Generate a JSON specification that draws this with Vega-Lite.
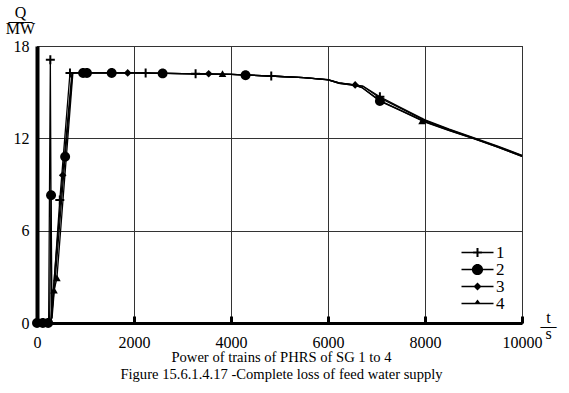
{
  "$schema": "https://vega.github.io/schema/vega-lite/v6.json",
  "width": 485,
  "height": 277,
  "autosize": "none",
  "padding": {"left": 37, "top": 46, "right": 47, "bottom": 70},
  "background": "white",
  "config": {
    "font": "Liberation Serif",
    "style": {
      "guide-label": {"font": "Liberation Serif"},
      "guide-title": {"font": "Liberation Serif"}
    },
    "view": {"stroke": "black", "strokeWidth": 1},
    "axis": {
      "labelFont": "Liberation Serif",
      "titleFont": "Liberation Serif",
      "labelColor": "black",
      "titleColor": "black",
      "labelFontSize": 16,
      "titleFontSize": 16,
      "titleFontWeight": "normal",
      "domainColor": "black",
      "gridColor": "#333333",
      "gridWidth": 1,
      "gridOpacity": 1,
      "tickColor": "black"
    }
  },
  "title": {
    "text": "Power of trains of PHRS of SG 1 to 4",
    "subtitle": "Figure 15.6.1.4.17 -Complete loss of feed water supply",
    "orient": "bottom",
    "anchor": "middle",
    "frame": "group",
    "font": "Liberation Serif",
    "fontSize": 14.6,
    "fontWeight": "normal",
    "color": "black",
    "subtitleFont": "Liberation Serif",
    "subtitleFontSize": 14.6,
    "subtitleColor": "black",
    "subtitlePadding": 2,
    "offset": 0,
    "dx": 2
  },
  "datasets": {
    "curves": [
      {"s": "1", "t": 0, "q": 0}, {"s": "1", "t": 240, "q": 0}, {"s": "1", "t": 275, "q": 17.1}, {"s": "1", "t": 300, "q": 0.3},
      {"s": "1", "t": 470, "q": 8.0}, {"s": "1", "t": 680, "q": 16.25}, {"s": "1", "t": 1000, "q": 16.25}, {"s": "1", "t": 2000, "q": 16.25},
      {"s": "1", "t": 3000, "q": 16.2}, {"s": "1", "t": 4000, "q": 16.15}, {"s": "1", "t": 4800, "q": 16.05}, {"s": "1", "t": 5500, "q": 15.95},
      {"s": "1", "t": 6000, "q": 15.82}, {"s": "1", "t": 6230, "q": 15.6}, {"s": "1", "t": 6550, "q": 15.48}, {"s": "1", "t": 6720, "q": 15.4},
      {"s": "1", "t": 7070, "q": 14.7}, {"s": "1", "t": 7500, "q": 14.0}, {"s": "1", "t": 8000, "q": 13.2}, {"s": "1", "t": 8500, "q": 12.6},
      {"s": "1", "t": 9000, "q": 12.05}, {"s": "1", "t": 9500, "q": 11.5}, {"s": "1", "t": 10000, "q": 10.9},

      {"s": "2", "t": 0, "q": 0}, {"s": "2", "t": 260, "q": 0}, {"s": "2", "t": 290, "q": 8.3}, {"s": "2", "t": 310, "q": 0.3},
      {"s": "2", "t": 580, "q": 10.8}, {"s": "2", "t": 730, "q": 16.25}, {"s": "2", "t": 1000, "q": 16.25}, {"s": "2", "t": 2000, "q": 16.25},
      {"s": "2", "t": 3000, "q": 16.2}, {"s": "2", "t": 4000, "q": 16.15}, {"s": "2", "t": 4800, "q": 16.05}, {"s": "2", "t": 5500, "q": 15.95},
      {"s": "2", "t": 6000, "q": 15.8}, {"s": "2", "t": 6230, "q": 15.58}, {"s": "2", "t": 6550, "q": 15.45}, {"s": "2", "t": 6700, "q": 15.3},
      {"s": "2", "t": 7070, "q": 14.42}, {"s": "2", "t": 7500, "q": 13.8}, {"s": "2", "t": 8000, "q": 13.05}, {"s": "2", "t": 8500, "q": 12.5},
      {"s": "2", "t": 9000, "q": 11.98}, {"s": "2", "t": 9500, "q": 11.42}, {"s": "2", "t": 10000, "q": 10.82},

      {"s": "3", "t": 0, "q": 0}, {"s": "3", "t": 280, "q": 0}, {"s": "3", "t": 530, "q": 9.6}, {"s": "3", "t": 720, "q": 16.25},
      {"s": "3", "t": 1000, "q": 16.25}, {"s": "3", "t": 2000, "q": 16.25}, {"s": "3", "t": 3000, "q": 16.2}, {"s": "3", "t": 4000, "q": 16.15},
      {"s": "3", "t": 4800, "q": 16.05}, {"s": "3", "t": 5500, "q": 15.95}, {"s": "3", "t": 6000, "q": 15.82}, {"s": "3", "t": 6230, "q": 15.6},
      {"s": "3", "t": 6550, "q": 15.47}, {"s": "3", "t": 6720, "q": 15.38}, {"s": "3", "t": 7070, "q": 14.62}, {"s": "3", "t": 7500, "q": 13.95},
      {"s": "3", "t": 8000, "q": 13.15}, {"s": "3", "t": 8500, "q": 12.57}, {"s": "3", "t": 9000, "q": 12.02}, {"s": "3", "t": 9500, "q": 11.47},
      {"s": "3", "t": 10000, "q": 10.88},

      {"s": "4", "t": 0, "q": 0}, {"s": "4", "t": 290, "q": 0}, {"s": "4", "t": 350, "q": 2.1}, {"s": "4", "t": 410, "q": 2.9},
      {"s": "4", "t": 740, "q": 16.25}, {"s": "4", "t": 1000, "q": 16.25}, {"s": "4", "t": 2000, "q": 16.25}, {"s": "4", "t": 3000, "q": 16.2},
      {"s": "4", "t": 4000, "q": 16.15}, {"s": "4", "t": 4800, "q": 16.05}, {"s": "4", "t": 5500, "q": 15.95}, {"s": "4", "t": 6000, "q": 15.8},
      {"s": "4", "t": 6230, "q": 15.58}, {"s": "4", "t": 6550, "q": 15.45}, {"s": "4", "t": 6700, "q": 15.3}, {"s": "4", "t": 7070, "q": 14.45},
      {"s": "4", "t": 7500, "q": 13.82}, {"s": "4", "t": 8000, "q": 13.08}, {"s": "4", "t": 8500, "q": 12.52}, {"s": "4", "t": 9000, "q": 11.99},
      {"s": "4", "t": 9500, "q": 11.43}, {"s": "4", "t": 10000, "q": 10.83}
    ],
    "markers": [
      {"s": "1", "t": 275, "q": 17.1}, {"s": "1", "t": 470, "q": 8.0}, {"s": "1", "t": 680, "q": 16.25}, {"s": "1", "t": 2240, "q": 16.25},
      {"s": "1", "t": 3270, "q": 16.2}, {"s": "1", "t": 4830, "q": 16.05}, {"s": "1", "t": 7070, "q": 14.7},
      {"s": "2", "t": 0, "q": 0}, {"s": "2", "t": 120, "q": 0}, {"s": "2", "t": 230, "q": 0}, {"s": "2", "t": 290, "q": 8.3},
      {"s": "2", "t": 580, "q": 10.8}, {"s": "2", "t": 950, "q": 16.25}, {"s": "2", "t": 1030, "q": 16.25}, {"s": "2", "t": 1540, "q": 16.25},
      {"s": "2", "t": 2590, "q": 16.22}, {"s": "2", "t": 4300, "q": 16.1}, {"s": "2", "t": 7070, "q": 14.42},
      {"s": "3", "t": 530, "q": 9.6}, {"s": "3", "t": 1870, "q": 16.25}, {"s": "3", "t": 3540, "q": 16.2}, {"s": "3", "t": 6560, "q": 15.47},
      {"s": "4", "t": 350, "q": 2.1}, {"s": "4", "t": 410, "q": 2.9}, {"s": "4", "t": 3825, "q": 16.17}, {"s": "4", "t": 7940, "q": 13.1}
    ]
  },
  "encoding": {
    "x": {
      "field": "t", "type": "quantitative",
      "scale": {"domain": [0, 10000], "nice": false, "zero": false},
      "axis": {
        "values": [0, 2000, 4000, 6000, 8000, 10000],
        "format": "d",
        "labelFont": "Liberation Serif",
        "labelFontSize": 16,
        "titleFont": "Liberation Serif",
        "grid": true,
        "tickSize": -7,
        "tickWidth": 3,
        "domainWidth": 3,
        "labelPadding": 18,
        "labelFlush": false,
        "labelOverlap": false,
        "title": ["t", "—", "s"],
        "titleLineHeight": 8,
        "titleAngle": 0,
        "titleAlign": "center",
        "titleBaseline": "alphabetic",
        "titleX": 511,
        "titleY": -1
      }
    },
    "y": {
      "field": "q", "type": "quantitative",
      "scale": {"domain": [0, 18], "nice": false},
      "axis": {
        "values": [0, 6, 12, 18],
        "format": "d",
        "labelFont": "Liberation Serif",
        "labelFontSize": 16,
        "titleFont": "Liberation Serif",
        "grid": true,
        "ticks": false,
        "domainWidth": 4,
        "labelPadding": 8,
        "title": ["Q", "—–", "MW"],
        "titleLineHeight": 8,
        "titleAngle": 0,
        "titleAlign": "center",
        "titleBaseline": "alphabetic",
        "titleX": -17,
        "titleY": -29
      }
    }
  },
  "layer": [
    {
      "data": {"name": "curves"},
      "mark": {"type": "line", "color": "black", "strokeWidth": 1.3},
      "encoding": {"detail": {"field": "s"}}
    },
    {
      "data": {"name": "markers"},
      "mark": {"type": "point", "filled": true, "color": "black", "opacity": 1, "size": 81, "strokeWidth": 0},
      "encoding": {
        "shape": {
          "field": "s", "type": "nominal",
          "scale": {
            "domain": ["1", "2", "3", "4"],
            "range": [
              "M-1,-0.22H-0.22V-1H0.22V-0.22H1V0.22H0.22V1H-0.22V0.22H-1Z",
              "M-1.1,0A1.1,1.1,0,1,1,1.1,0A1.1,1.1,0,1,1,-1.1,0Z",
              "M0,-0.85L0.85,0L0,0.85L-0.85,0Z",
              "M0,-0.85L0.85,0.65L-0.85,0.65Z"
            ]
          },
          "legend": null
        }
      }
    },
    {
      "data": {"name": "markers"},
      "mark": {"type": "point", "filled": true, "color": "black", "opacity": 0, "strokeWidth": 0},
      "encoding": {
        "shape": {
          "field": "s", "type": "nominal",
          "scale": {
            "domain": ["1", "2", "3", "4"],
            "range": [
              "M-4,-0.2H4V0.2H-4Z M-1.1,-0.25H-0.25V-1.1H0.25V-0.25H1.1V0.25H0.25V1.1H-0.25V0.25H-1.1Z",
              "M-4,-0.2H4V0.2H-4Z M-1.4,0A1.4,1.4,0,1,1,1.4,0A1.4,1.4,0,1,1,-1.4,0Z",
              "M-4,-0.2H4V0.2H-4Z M0,-1L1,0L0,1L-1,0Z",
              "M-4,-0.2H4V0.2H-4Z M0,-1L0.9,0.2L-0.9,0.2Z"
            ]
          },
          "legend": {
            "orient": "none",
            "legendX": 432,
            "legendY": 198,
            "title": null,
            "padding": 0,
            "labelFont": "Liberation Serif",
            "labelFontSize": 17,
            "labelColor": "black",
            "labelOffset": 10,
            "symbolSize": 64,
            "symbolOpacity": 1,
            "symbolFillColor": "black",
            "symbolStrokeWidth": 0,
            "rowPadding": -3
          }
        }
      }
    }
  ],
  "resolve": {"scale": {"shape": "independent"}, "legend": {"shape": "independent"}}
}
